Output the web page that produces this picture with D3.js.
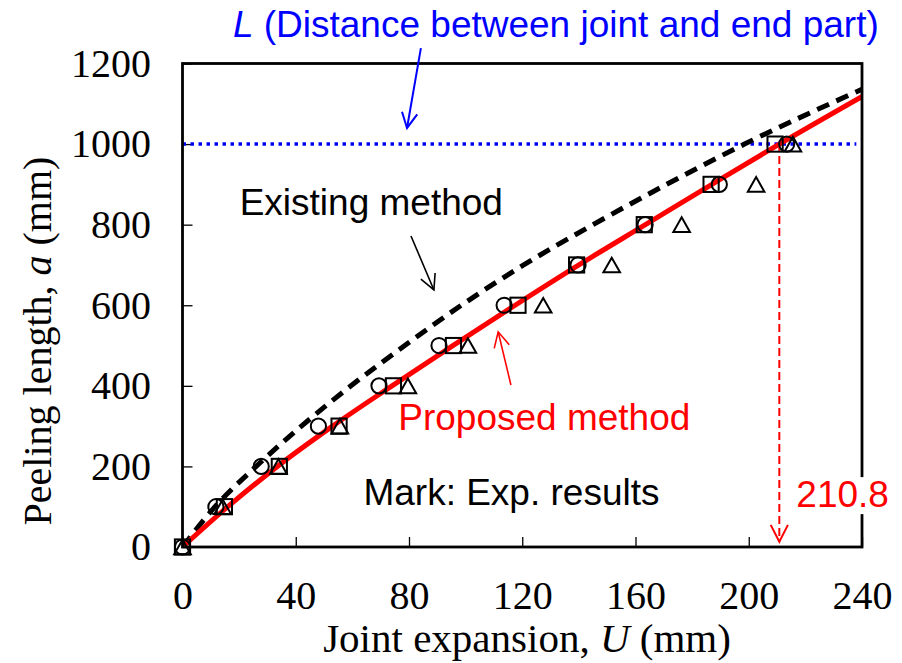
<!DOCTYPE html>
<html>
<head>
<meta charset="utf-8">
<script src="https://cdn.jsdelivr.net/npm/d3@7"></script>
<style>
  html, body { margin: 0; padding: 0; background: #fff; }
  svg { display: block; }
</style>
</head>
<body>
<svg id="chart" width="902" height="663"></svg>
<script>
// Axis ticks
const uTicks = [0, 40, 80, 120, 160, 200, 240];
const aTicks = [0, 200, 400, 600, 800, 1000, 1200];

// Experimental peeling lengths (mm) and the joint expansion at which each was reached
const expLevels = [0, 100, 200, 300, 400, 500, 600, 700, 800, 900, 1000];
const circleU   = [0, 11.8, 27.8, 48, 69.4, 90.6, 113.6, 139.7, 163.4, 189.6, 213.4];
const squareU   = [0, 14.8, 34.2, 55.3, 74.5, 95.7, 118.5, 139.2, 163.1, 186.7, 209.3];
const triangleU = [0, 14.2, 33.9, 55.6, 79.6, 100.8, 127.4, 151.6, 176.3, 202.6, 215.6];

// Existing method (dashed curve)
const existingU = [0, 11.5, 26, 42, 59.5, 78.5, 98.5, 120.5, 145, 171, 198.5, 240];
const existingA = [0, 100, 200, 300, 400, 500, 600, 700, 800, 900, 1000, 1136];

// Proposed method (solid curve)
const proposedU = [0, 16, 33.5, 53, 74, 95.5, 117.5, 140, 163.5, 187, 210.8, 240];
const proposedA = [0, 100, 200, 300, 400, 500, 600, 700, 800, 900, 1000, 1118];

// Distance between joint and end part, and the expansion where the proposed curve reaches it
const distanceL = 1000;
const crossingU = 210.8;

const svg = d3.select("#chart");
const plot = { left: 182.5, top: 63.5, right: 862, bottom: 547 };

const x = d3.scaleLinear().domain([0, 240]).range([plot.left, plot.right]);
const y = d3.scaleLinear().domain([0, 1200]).range([plot.bottom, plot.top]);

const serif = "'Liberation Serif', 'Times New Roman', Times, serif";
const sans = "'Liberation Sans', Arial, Helvetica, sans-serif";
const noteSize = "37px";

svg.append("defs").append("clipPath").attr("id", "plotClip")
  .append("rect")
  .attr("x", plot.left).attr("y", plot.top)
  .attr("width", plot.right - plot.left).attr("height", plot.bottom - plot.top);

// Axes with inward ticks
const xAxis = svg.append("g")
  .attr("transform", `translate(0,${plot.bottom})`)
  .call(d3.axisBottom(x).tickValues(uTicks).tickSize(-10).tickPadding(34).tickFormat(d3.format("d")));
const yAxis = svg.append("g")
  .attr("transform", `translate(${plot.left},0)`)
  .call(d3.axisLeft(y).tickValues(aTicks).tickSize(-10).tickPadding(31.5).tickFormat(d3.format("d")));
[xAxis, yAxis].forEach(g => {
  g.select(".domain").remove();
  g.selectAll(".tick line").attr("stroke", "#000").attr("stroke-width", 1.3);
  g.selectAll(".tick text").attr("fill", "#000")
    .style("font-family", serif).style("font-size", "40px");
});

// Axis titles
const xTitle = svg.append("text")
  .attr("x", 527).attr("y", 652)
  .attr("text-anchor", "middle")
  .style("font-family", serif).style("font-size", "41px").attr("fill", "#000");
xTitle.append("tspan").text("Joint expansion, ");
xTitle.append("tspan").style("font-style", "italic").text("U");
xTitle.append("tspan").text(" (mm)");

const yTitle = svg.append("text")
  .attr("transform", "translate(51,341) rotate(-90)")
  .attr("text-anchor", "middle")
  .style("font-family", serif).style("font-size", "40px").attr("fill", "#000");
yTitle.append("tspan").text("Peeling length, ");
yTitle.append("tspan").style("font-style", "italic").text("a");
yTitle.append("tspan").text(" (mm)");

const inner = svg.append("g").attr("clip-path", "url(#plotClip)");

// Horizontal dotted line at L
inner.append("line")
  .attr("x1", x(0)).attr("x2", x(238))
  .attr("y1", y(distanceL)).attr("y2", y(distanceL))
  .attr("stroke", "#0000ff").attr("stroke-width", 3.5)
  .attr("stroke-dasharray", "3.5,4.5");

const lineGen = d3.line().x(d => x(d[0])).y(d => y(d[1])).curve(d3.curveMonotoneX);

// Existing method
inner.append("path")
  .datum(existingU.map((u, i) => [u, existingA[i]]))
  .attr("d", lineGen)
  .attr("fill", "none").attr("stroke", "#000").attr("stroke-width", 5)
  .attr("stroke-dasharray", "13,8");

// Proposed method
inner.append("path")
  .datum(proposedU.map((u, i) => [u, proposedA[i]]))
  .attr("d", lineGen)
  .attr("fill", "none").attr("stroke", "#ff0000").attr("stroke-width", 5);

// Open V-head arrow helper
function arrow(g, u1, a1, u2, a2, color, width, head, dash) {
  const x1 = x(u1), y1 = y(a1), x2 = x(u2), y2 = y(a2);
  g.append("line")
    .attr("x1", x1).attr("y1", y1).attr("x2", x2).attr("y2", y2)
    .attr("stroke", color).attr("stroke-width", width)
    .attr("stroke-dasharray", dash || null);
  const ang = Math.atan2(y2 - y1, x2 - x1);
  const spread = 27 * Math.PI / 180;
  const p1 = [x2 - head * Math.cos(ang - spread), y2 - head * Math.sin(ang - spread)];
  const p2 = [x2 - head * Math.cos(ang + spread), y2 - head * Math.sin(ang + spread)];
  g.append("path")
    .attr("d", `M${p1[0]},${p1[1]}L${x2},${y2}L${p2[0]},${p2[1]}`)
    .attr("fill", "none").attr("stroke", color).attr("stroke-width", width);
}

// Vertical dashed drop line from the crossing point
arrow(svg, crossingU, distanceL, crossingU, 13, "#ff0000", 2, 19, "8,4");

// Frame
svg.append("rect")
  .attr("x", plot.left).attr("y", plot.top)
  .attr("width", plot.right - plot.left).attr("height", plot.bottom - plot.top)
  .attr("fill", "none").attr("stroke", "#000").attr("stroke-width", 2.8);

// Experimental marks
const marks = svg.append("g").attr("fill", "none").attr("stroke", "#000").attr("stroke-width", 2);
marks.selectAll("circle.exp").data(circleU).join("circle")
  .attr("class", "exp")
  .attr("cx", d => x(d)).attr("cy", (d, i) => y(expLevels[i])).attr("r", 7.6);
marks.selectAll("rect.exp").data(squareU).join("rect")
  .attr("class", "exp")
  .attr("x", d => x(d) - 7.6).attr("y", (d, i) => y(expLevels[i]) - 7.6)
  .attr("width", 15.2).attr("height", 15.2);
marks.selectAll("path.exp").data(triangleU).join("path")
  .attr("class", "exp")
  .attr("d", (d, i) => {
    const cx = x(d), cy = y(expLevels[i]);
    return `M${cx},${cy - 7.3}L${cx + 8.3},${cy + 7.3}L${cx - 8.3},${cy + 7.3}Z`;
  });

// Annotations
const title = svg.append("text")
  .attr("x", x(17.8)).attr("y", y(1266))
  .style("font-family", sans).style("font-size", noteSize).attr("fill", "#0000ff");
title.append("tspan").style("font-style", "italic").text("L");
title.append("tspan").text(" (Distance between joint and end part)");
arrow(svg, 84.2, 1238, 79.3, 1040, "#0000ff", 2, 17);

svg.append("text")
  .attr("x", x(20.2)).attr("y", y(824))
  .style("font-family", sans).style("font-size", noteSize).attr("fill", "#000")
  .text("Existing method");
arrow(svg, 80.7, 772, 88.8, 638, "#000", 1.6, 17);

svg.append("text")
  .attr("x", x(76.2)).attr("y", y(290))
  .style("font-family", sans).style("font-size", noteSize).attr("fill", "#ff0000")
  .text("Proposed method");
arrow(svg, 116, 402, 111.5, 534, "#ff0000", 1.6, 17);

svg.append("text")
  .attr("x", x(63.9)).attr("y", y(104))
  .style("font-family", sans).style("font-size", noteSize).attr("fill", "#000")
  .text("Mark: Exp. results");

// Value of the crossing point, on a white box over the frame
const valueLabel = svg.append("text")
  .attr("x", x(crossingU) + 17).attr("y", y(99))
  .style("font-family", sans).style("font-size", noteSize).attr("fill", "#ff0000")
  .text(d3.format(".1f")(crossingU));
const bb = valueLabel.node().getBBox();
svg.insert("rect", () => valueLabel.node())
  .attr("x", bb.x).attr("y", bb.y + 3)
  .attr("width", bb.width).attr("height", bb.height - 4)
  .attr("fill", "#fff");
</script>
</body>
</html>
